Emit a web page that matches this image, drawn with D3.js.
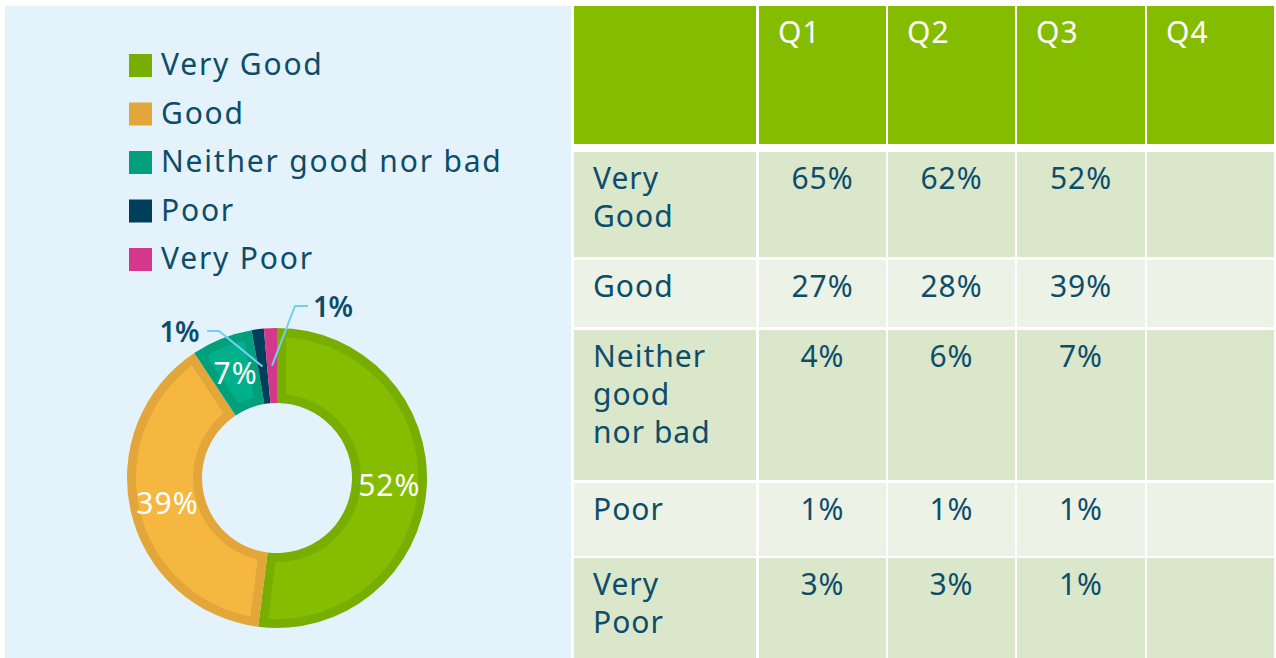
<!DOCTYPE html>
<html>
<head>
<meta charset="utf-8">
<script src="https://cdn.jsdelivr.net/npm/d3@7"></script>
<style>
  html, body { margin: 0; padding: 0; background: #ffffff; }
  svg { display: block; }
</style>
</head>
<body>
<div id="chart"></div>
<script>
(function () {
  'use strict';

  // ── Data ──
  var categories = ['Very Good', 'Good', 'Neither good nor bad', 'Poor', 'Very Poor'];
  var donutValues = [52.0, 38.7, 6.6, 1.3, 1.4];      // Q3 share
  var donutLabels = ['52%', '39%', '7%', '1%', '1%'];
  var quarters = ['Q1', 'Q2', 'Q3', 'Q4'];
  var rowLabels = [['Very', 'Good'], ['Good'], ['Neither', 'good', 'nor bad'], ['Poor'], ['Very', 'Poor']];
  var q1Values = ['65%', '27%', '4%', '1%', '3%'];
  var q2Values = ['62%', '28%', '6%', '1%', '3%'];
  var q3Values = ['52%', '39%', '7%', '1%', '1%'];
  var q4Values = ['', '', '', '', ''];

  // ── Style ──
  var W = 1276, H = 658;
  var FONT = '"Noto Sans", "Open Sans", sans-serif';
  var FONT_SIZE = 30;
  var TEXT_COLOR = '#0d4d6a';
  var PANEL_BG = '#e4f3fb';
  var HEADER_GREEN = '#84bc00';
  var ROW_DARK = '#dae7ca';
  var ROW_LIGHT = '#ecf3e6';
  var LEADER_COLOR = '#72cff5';
  var EDGE_COLORS = ['#78ae00', '#e2a63a', '#00a07c', '#003f5c', '#d3388a'];
  var FILL_COLORS = ['#85bd00', '#f6b740', '#00b08a', '#003f5c', '#d3388a'];
  var LEGEND_COLORS = ['#78ae00', '#e2a63a', '#00a07c', '#003f5c', '#d3388a'];

  var svg = d3.select('#chart').append('svg')
    .attr('width', W)
    .attr('height', H)
    .style('font-family', FONT)
    .style('letter-spacing', '1px');

  // ── Left panel ──
  svg.append('rect')
    .attr('x', 5).attr('y', 6)
    .attr('width', 566).attr('height', H - 6)
    .attr('fill', PANEL_BG);

  // Legend
  var legendY = d3.scalePoint().domain(categories).range([65, 259]);
  var legend = svg.append('g').selectAll('g')
    .data(categories)
    .join('g')
    .attr('transform', function (d) { return 'translate(129,' + legendY(d) + ')'; });

  legend.append('rect')
    .attr('x', 0).attr('y', -11)
    .attr('width', 23).attr('height', 23)
    .attr('fill', function (d, i) { return LEGEND_COLORS[i]; });

  legend.append('text')
    .attr('x', 32).attr('y', 10)
    .attr('fill', TEXT_COLOR)
    .attr('font-size', FONT_SIZE)
    .style('letter-spacing', '1.8px')
    .text(function (d) { return d; });

  // ── Donut ──
  var CX = 277, CY = 478, R_OUT = 150, R_IN = 75, BAND = 9;

  var pie = d3.pie().sort(null).value(function (d) { return d; });
  var arcs = pie(donutValues);

  var arcOuter = d3.arc().innerRadius(R_IN).outerRadius(R_OUT);
  var arcInner = d3.arc()
    .innerRadius(R_IN + BAND)
    .outerRadius(R_OUT - BAND)
    .padRadius(R_OUT)
    .padAngle(2 * BAND / R_OUT);
  var arcLabel = d3.arc().innerRadius(R_IN).outerRadius(R_OUT);

  var donut = svg.append('g').attr('transform', 'translate(' + CX + ',' + CY + ')');

  donut.selectAll('path.edge')
    .data(arcs)
    .join('path')
    .attr('class', 'edge')
    .attr('d', arcOuter)
    .attr('fill', function (d, i) { return EDGE_COLORS[i]; });

  donut.selectAll('path.face')
    .data(arcs.filter(function (d) { return d.value > 5; }))
    .join('path')
    .attr('class', 'face')
    .attr('d', arcInner)
    .attr('fill', function (d) { return FILL_COLORS[d.index]; });

  // In-ring labels
  donut.selectAll('text.inlabel')
    .data(arcs.filter(function (d) { return d.value > 5; }))
    .join('text')
    .attr('class', 'inlabel')
    .attr('transform', function (d) { return 'translate(' + arcLabel.centroid(d) + ')'; })
    .attr('text-anchor', 'middle')
    .attr('dy', '0.36em')
    .attr('fill', '#ffffff')
    .attr('font-size', FONT_SIZE)
    .text(function (d) { return donutLabels[d.index]; });

  // Callouts for the thin slices
  var callouts = [
    { index: 3, elbow: [-58, -147], end: [-70, -147], anchor: 'end' },
    { index: 4, elbow: [18, -172], end: [31, -172], anchor: 'start' }
  ];

  donut.selectAll('polyline.leader')
    .data(callouts)
    .join('polyline')
    .attr('class', 'leader')
    .attr('points', function (c) {
      var p = arcLabel.centroid(arcs[c.index]);
      return [p, c.elbow, c.end].map(function (q) { return q.join(','); }).join(' ');
    })
    .attr('fill', 'none')
    .attr('stroke', LEADER_COLOR)
    .attr('stroke-width', 2);

  donut.selectAll('text.outlabel')
    .data(callouts)
    .join('text')
    .attr('class', 'outlabel')
    .attr('x', function (c) { return c.end[0] + (c.anchor === 'end' ? -8 : 5); })
    .attr('y', function (c) { return c.end[1] + 1; })
    .attr('dy', '0.36em')
    .attr('text-anchor', function (c) { return c.anchor; })
    .attr('fill', TEXT_COLOR)
    .attr('font-size', 28)
    .attr('font-weight', 600)
    .style('letter-spacing', '-0.5px')
    .text(function (c) { return donutLabels[c.index]; });

  // ── Table ──
  var colLeft = [574, 759, 888, 1017, 1147];
  var colRight = [756, 886, 1015, 1145, 1274];
  var rowTop = [6, 152, 260, 330, 483, 558];
  var rowBottom = [144, 257, 327, 480, 556, 658];
  var LINE_H = 38, BASE_OFF = 37, PAD = 19;

  var columns = [q1Values, q2Values, q3Values, q4Values];
  var table = svg.append('g');

  // header row
  var header = table.append('g');
  header.selectAll('rect')
    .data([''].concat(quarters))
    .join('rect')
    .attr('x', function (d, i) { return colLeft[i]; })
    .attr('y', rowTop[0])
    .attr('width', function (d, i) { return colRight[i] - colLeft[i]; })
    .attr('height', rowBottom[0] - rowTop[0])
    .attr('fill', HEADER_GREEN);

  header.selectAll('text')
    .data(quarters)
    .join('text')
    .attr('x', function (d, i) { return colLeft[i + 1] + PAD; })
    .attr('y', rowTop[0] + BASE_OFF)
    .attr('fill', '#ffffff')
    .attr('font-size', FONT_SIZE)
    .text(function (d) { return d; });

  // body rows
  var rows = table.selectAll('g.row')
    .data(categories)
    .join('g')
    .attr('class', 'row');

  rows.each(function (cat, r) {
    var g = d3.select(this);
    var top = rowTop[r + 1], bottom = rowBottom[r + 1];
    var fill = r % 2 === 0 ? ROW_DARK : ROW_LIGHT;
    var cells = [rowLabels[r]].concat(columns.map(function (c) { return c[r]; }));

    g.selectAll('rect')
      .data(cells)
      .join('rect')
      .attr('x', function (d, i) { return colLeft[i]; })
      .attr('y', top)
      .attr('width', function (d, i) { return colRight[i] - colLeft[i]; })
      .attr('height', bottom - top)
      .attr('fill', fill);

    g.append('text')
      .attr('x', colLeft[0] + PAD)
      .attr('y', top + BASE_OFF)
      .attr('fill', TEXT_COLOR)
      .attr('font-size', FONT_SIZE)
      .selectAll('tspan')
      .data(rowLabels[r])
      .join('tspan')
      .attr('x', colLeft[0] + PAD)
      .attr('dy', function (d, i) { return i === 0 ? 0 : LINE_H; })
      .text(function (d) { return d; });

    g.selectAll('text.val')
      .data(cells.slice(1))
      .join('text')
      .attr('class', 'val')
      .attr('x', function (d, i) { return (colLeft[i + 1] + colRight[i + 1]) / 2; })
      .attr('y', top + BASE_OFF)
      .attr('text-anchor', 'middle')
      .attr('fill', TEXT_COLOR)
      .attr('font-size', FONT_SIZE)
      .text(function (d) { return d; });
  });
})();
</script>
</body>
</html>
